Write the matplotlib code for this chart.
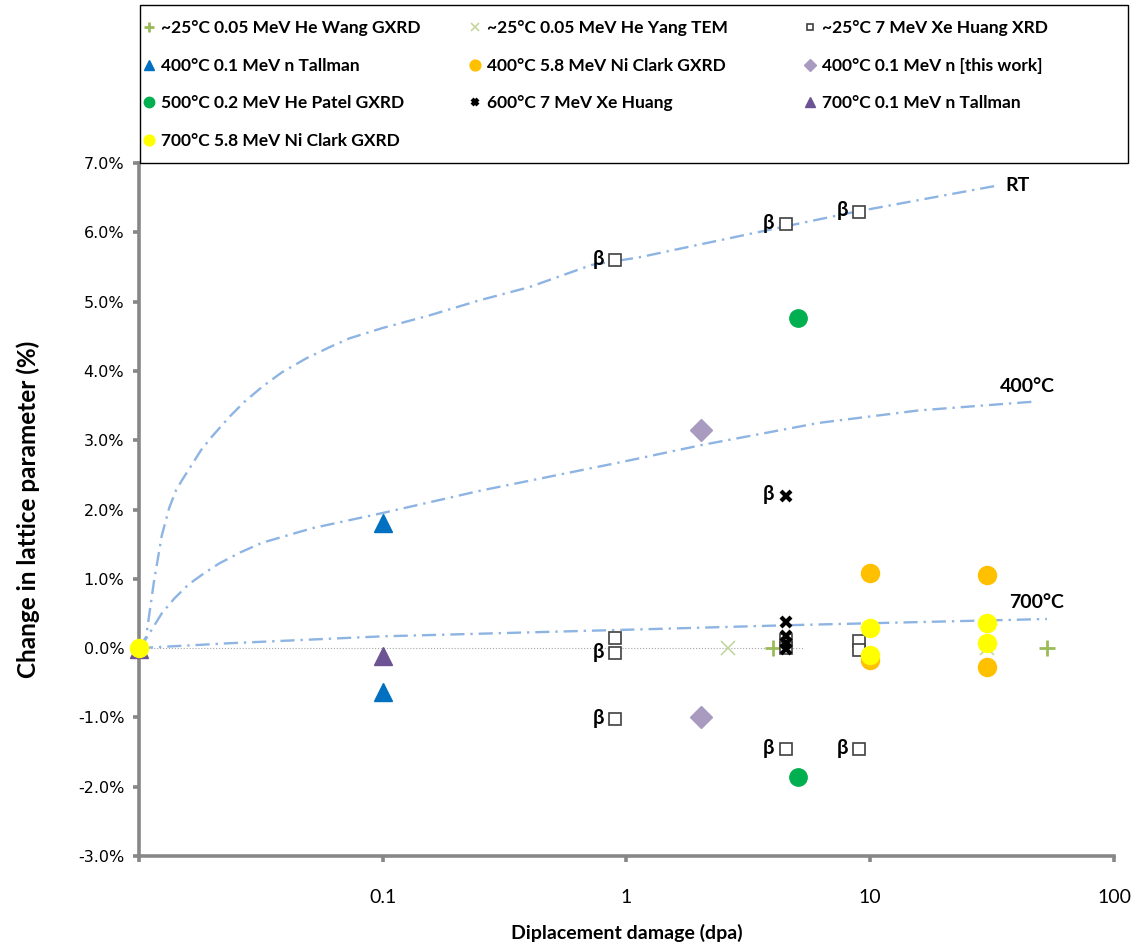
import matplotlib
matplotlib.use("Agg")
import matplotlib.pyplot as plt
from matplotlib.patches import Rectangle
from matplotlib.ticker import FixedLocator, NullLocator

FONT = ['Lato', 'DejaVu Sans']

# ---- data ----
wang_x = [4.0, 53]
wang_y = [0.0, 0.0]
yang_x = [2.6, 30]
yang_y = [0.0, 0.0]
huang_rt_x = [0.9, 0.9, 0.9, 0.9, 4.5, 4.5, 4.5, 4.5, 9.0, 9.0, 9.0, 9.0]
huang_rt_y = [5.6, 0.15, -0.07, -1.03, 6.12, 0.12, 0.0, -1.46, 6.3, 0.1, -0.03, -1.46]
huang_rt_beta = [1, 0, 1, 1, 1, 0, 0, 1, 1, 0, 0, 1]
tallman400_x = [0.1, 0.1]
tallman400_y = [1.8, -0.63]
clark400_x = [10, 10, 30, 30]
clark400_y = [1.08, -0.17, 1.05, -0.27]
thiswork_x = [2.03, 2.03]
thiswork_y = [3.15, -1.0]
patel_x = [5.03, 5.03]
patel_y = [4.76, -1.86]
huang600_x = [4.5, 4.5, 4.5, 4.5, 4.5]
huang600_y = [2.2, 0.37, 0.17, 0.07, -0.02]
huang600_beta = [1, 0, 0, 0, 0]
tallman700_x = [0.01, 0.1]
tallman700_y = [-0.02, -0.12]
clark700_x = [0.01, 10, 10, 30, 30]
clark700_y = [0.0, 0.29, -0.1, 0.36, 0.07]

# trend curves
rt_x = [0.01, 0.0107, 0.0115, 0.0124, 0.0133, 0.0142, 0.015, 0.0163, 0.018,
        0.0199, 0.0234, 0.027, 0.032, 0.0386, 0.0485, 0.0603, 0.073, 0.1,
        0.155, 0.25, 0.40, 0.72, 1.13, 4.14, 8.5, 33.8]
rt_y = [0.0, 0.16, 0.94, 1.62, 2.02, 2.28, 2.42, 2.62, 2.86,
        3.05, 3.33, 3.55, 3.77, 3.98, 4.18, 4.34, 4.47, 4.62,
        4.8, 5.02, 5.21, 5.53, 5.64, 6.06, 6.29, 6.68]
t400_x = [0.01, 0.0105, 0.0124, 0.0140, 0.016, 0.0185, 0.0213, 0.026, 0.032,
          0.0513, 0.1, 0.25, 1.0, 2.03, 6.15, 15.8, 48.3]
t400_y = [0.0, 0.09, 0.5, 0.72, 0.92, 1.08, 1.22, 1.38, 1.52,
          1.73, 1.95, 2.27, 2.70, 2.93, 3.25, 3.43, 3.56]
t700_x = [0.01, 0.0234, 0.1, 1.13, 4.57, 53]
t700_y = [0.0, 0.07, 0.17, 0.27, 0.33, 0.42]
zero_x = [0.01, 5.3]
zero_y = [0.0, 0.0]

y_ticks = [-3, -2, -1, 0, 1, 2, 3, 4, 5, 6, 7]
x_ticks = [0.01, 0.1, 1, 10, 100]
x_ticklabels = ['', '0.1', '1', '10', '100']

fig = plt.figure(figsize=(11.37, 9.49), dpi=100)
ax = fig.add_axes([0.1222, 0.098, 0.8576, 0.7302])
ax.set_xscale('log')
ax.set_xlim(0.01, 100)
ax.set_ylim(-3, 7)

curve_kw = dict(color='#8DB4E2', lw=1.7, ls=(0, (6, 2.5, 1, 2.5)), zorder=2)
ax.plot(rt_x, rt_y, **curve_kw)
ax.plot(t400_x, t400_y, **curve_kw)
ax.plot(t700_x, t700_y, **curve_kw)
ax.plot(zero_x, zero_y, color='#A6A6A6', lw=0.8, ls=':', zorder=1)

series = [
    ('~25°C 0.05 MeV He Wang GXRD', wang_x, wang_y,
     dict(marker='+', color='#9BBB59', ms=11, mew=2)),
    ('~25°C 0.05 MeV He Yang TEM', yang_x, yang_y,
     dict(marker='x', color='#C3D69B', ms=10, mew=1.2)),
    ('~25°C 7 MeV Xe Huang XRD', huang_rt_x, huang_rt_y,
     dict(marker='s', mfc='white', mec='#404040', ms=8, mew=1.2)),
    ('400°C 0.1 MeV n Tallman', tallman400_x, tallman400_y,
     dict(marker='^', color='#0070C0', ms=13)),
    ('400°C 5.8 MeV Ni Clark GXRD', clark400_x, clark400_y,
     dict(marker='o', color='#FFC000', ms=13)),
    ('400°C 0.1 MeV n [this work]', thiswork_x, thiswork_y,
     dict(marker='D', color='#A99BC0', ms=11)),
    ('500°C 0.2 MeV He Patel GXRD', patel_x, patel_y,
     dict(marker='o', color='#00B050', ms=12.5)),
    ('600°C 7 MeV Xe Huang', huang600_x, huang600_y,
     dict(marker='x', color='black', ms=7.5, mew=3)),
    ('700°C 0.1 MeV n Tallman', tallman700_x, tallman700_y,
     dict(marker='^', color='#6B5394', ms=13)),
    ('700°C 5.8 MeV Ni Clark GXRD', clark700_x, clark700_y,
     dict(marker='o', color='#FFFF00', ms=13)),
]

handles = []
labels = []
for i, (lab, xs, ys, kw) in enumerate(series):
    h, = ax.plot(xs, ys, ls='none', clip_on=False, zorder=3 + i, **kw)
    handles.append(h)
    labels.append(lab)

beta_font = dict(family=FONT, weight='bold', size=14.5)
for xs, ys, flags in [(huang_rt_x, huang_rt_y, huang_rt_beta),
                      (huang600_x, huang600_y, huang600_beta)]:
    for x, y, f in zip(xs, ys, flags):
        if f:
            ax.annotate('β', (x, y), xytext=(-8, 1), textcoords='offset points',
                        ha='right', va='center', zorder=20, **beta_font)

lab_font = dict(family=FONT, weight='bold', size=14)
ax.text(36, 6.68, 'RT', ha='left', va='center', **lab_font)
ax.text(34, 3.77, '400°C', ha='left', va='center', **lab_font)
ax.text(37, 0.66, '700°C', ha='left', va='center', **lab_font)

# axes styling
for s in ['top', 'right']:
    ax.spines[s].set_visible(False)
for s in ['left', 'bottom']:
    ax.spines[s].set_color('#878787')
    ax.spines[s].set_linewidth(2.6)
ax.xaxis.set_major_locator(FixedLocator(x_ticks))
ax.xaxis.set_minor_locator(NullLocator())
ax.set_xticklabels(x_ticklabels, family=FONT, fontsize=14)
ax.set_yticks(y_ticks)
ax.set_yticklabels([f'{v:.1f}%' for v in y_ticks], family='DejaVu Sans', fontsize=11.5)
ax.tick_params(axis='both', direction='out', color='#878787', width=2.6, length=4.5)
ax.tick_params(axis='x', pad=19)
ax.tick_params(axis='y', pad=6)

ax.set_xlabel('Diplacement damage (dpa)', family=FONT, weight='bold', fontsize=14, labelpad=13)
ax.set_ylabel('Change in lattice parameter (%)', family=FONT, weight='bold', fontsize=17.5, labelpad=27)

# legend box drawn by hand, entries in three columns (row order as in reference)
fig.patches.append(Rectangle((140 / 1137, 1 - 163 / 949), 988 / 1137, 158 / 949,
                             transform=fig.transFigure, fill=False,
                             ec='black', lw=1.0, zorder=0))
columns = [[0, 3, 6, 9], [1, 4, 7], [2, 5, 8]]
col_left = [142, 468, 803]
for idx, x0 in zip(columns, col_left):
    fig.legend([handles[i] for i in idx], [labels[i] for i in idx],
               loc='upper left', bbox_to_anchor=(x0 / 1137, 1 - 20 / 949),
               frameon=False, prop=dict(family=FONT, weight='bold', size=12.5),
               markerscale=0.6, handlelength=0.8, handletextpad=0.3,
               borderpad=0, labelspacing=1.25, borderaxespad=0)

fig.savefig('out.png', dpi=100)
